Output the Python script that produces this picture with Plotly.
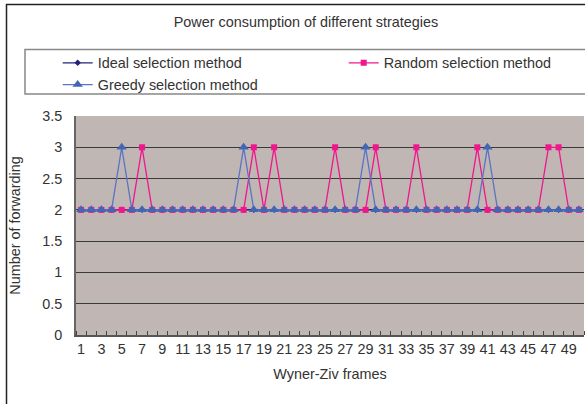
import plotly.graph_objects as go

frames = list(range(1, 51))
ideal = [2, 2, 2, 2, 2, 2, 2, 2, 2, 2,
         2, 2, 2, 2, 2, 2, 2, 2, 2, 2,
         2, 2, 2, 2, 2, 2, 2, 2, 2, 2,
         2, 2, 2, 2, 2, 2, 2, 2, 2, 2,
         2, 2, 2, 2, 2, 2, 2, 2, 2, 2]
random_sel = [2, 2, 2, 2, 2, 2, 3, 2, 2, 2,
              2, 2, 2, 2, 2, 2, 2, 3, 2, 3,
              2, 2, 2, 2, 2, 3, 2, 2, 2, 3,
              2, 2, 2, 3, 2, 2, 2, 2, 2, 3,
              2, 2, 2, 2, 2, 2, 3, 3, 2, 2]
greedy = [2, 2, 2, 2, 3, 2, 2, 2, 2, 2,
          2, 2, 2, 2, 2, 2, 3, 2, 2, 2,
          2, 2, 2, 2, 2, 2, 2, 2, 3, 2,
          2, 2, 2, 2, 2, 2, 2, 2, 2, 2,
          3, 2, 2, 2, 2, 2, 2, 2, 2, 2]
x_tick_labels = [1, 3, 5, 7, 9, 11, 13, 15, 17, 19, 21, 23, 25, 27, 29, 31, 33,
                 35, 37, 39, 41, 43, 45, 47, 49]
y_tick_values = [0, 0.5, 1, 1.5, 2, 2.5, 3, 3.5]
boundaries = [f - 0.5 for f in frames] + [frames[-1] + 0.5]

FONT = "Liberation Sans, Arial, sans-serif"
TXT = "#333333"
FS = 14.4

fig = go.Figure()
fig.add_trace(go.Scatter(
    x=frames, y=ideal, name="Ideal selection method", mode="lines+markers",
    line=dict(color="#23237A", width=1.3),
    marker=dict(symbol="diamond", size=5, color="#23237A")))
fig.add_trace(go.Scatter(
    x=frames, y=random_sel, name="Random selection method", mode="lines+markers",
    line=dict(color="#F0168C", width=1.3),
    marker=dict(symbol="square", size=6, color="#F0168C")))
fig.add_trace(go.Scatter(
    x=frames, y=greedy, name="Greedy selection method", mode="lines+markers",
    line=dict(color="#5A74C4", width=1.3),
    marker=dict(symbol="triangle-up", size=9, color="#4166B4")))

W, H = 585, 404
L, R, T, B = 76, 1, 116, 69
pw = W - L - R
ph = H - T - B


def px_x(p):
    return (p - L) / pw


def px_y(p):
    return (H - B - p) / ph


shapes = [
    # outer chart frame
    dict(type="rect", xref="paper", yref="paper",
         x0=px_x(6.5), x1=px_x(620), y0=px_y(4.5), y1=px_y(440),
         line=dict(color="#222222", width=1.5), layer="below"),
    # legend box
    dict(type="rect", xref="paper", yref="paper",
         x0=px_x(25), x1=px_x(620), y0=px_y(49.5), y1=px_y(94),
         line=dict(color="#888888", width=1.5), layer="below"),
]

fig.update_layout(
    width=W, height=H,
    margin=dict(l=L, r=R, t=T, b=B, autoexpand=False),
    paper_bgcolor="white",
    plot_bgcolor="#C0B7B4",
    font=dict(family=FONT, size=FS, color=TXT),
    title=dict(text="Power consumption of different strategies",
               x=306 / W, xanchor="center", y=1 - 22 / H, yanchor="middle",
               font=dict(size=FS, color=TXT)),
    showlegend=True,
    legend=dict(orientation="h", x=px_x(57.7), xanchor="left",
                y=px_y(47), yanchor="top", entrywidth=241, entrywidthmode="pixels",
                font=dict(size=FS, color=TXT), bgcolor="rgba(0,0,0,0)",
                traceorder="normal", itemwidth=30, tracegroupgap=0),
    shapes=shapes,
    xaxis=dict(range=[0.5, 50.5], tickmode="array", tickvals=x_tick_labels,
               ticktext=[str(v) for v in x_tick_labels], ticks="",
               showgrid=False, zeroline=False, showline=True,
               linecolor="#555555", linewidth=1.5,
               tickfont=dict(size=FS, color=TXT),
               minor=dict(tickmode="array", tickvals=boundaries, ticks="inside",
                          ticklen=4, tickcolor="#444444", tickwidth=1, showgrid=False),
               title=dict(text="Wyner-Ziv frames", standoff=13,
                          font=dict(size=FS, color=TXT))),
    yaxis=dict(range=[0, 3.5], tickmode="array", tickvals=y_tick_values,
               ticktext=[f"{v:g}" for v in y_tick_values], ticks="",
               showgrid=True, gridcolor="#3a3a3a", gridwidth=1,
               zeroline=False, showline=True, linecolor="#666666", linewidth=1.5,
               mirror=False, ticklabelstandoff=9,
               tickfont=dict(size=FS, color=TXT),
               title=dict(text="Number of forwarding", standoff=18,
                          font=dict(size=FS, color=TXT))),
)

fig.write_html("out.html",
               config={"displayModeBar": False},
               post_script="document.body.style.margin='0px';"
                           "document.body.style.overflow='hidden';")
